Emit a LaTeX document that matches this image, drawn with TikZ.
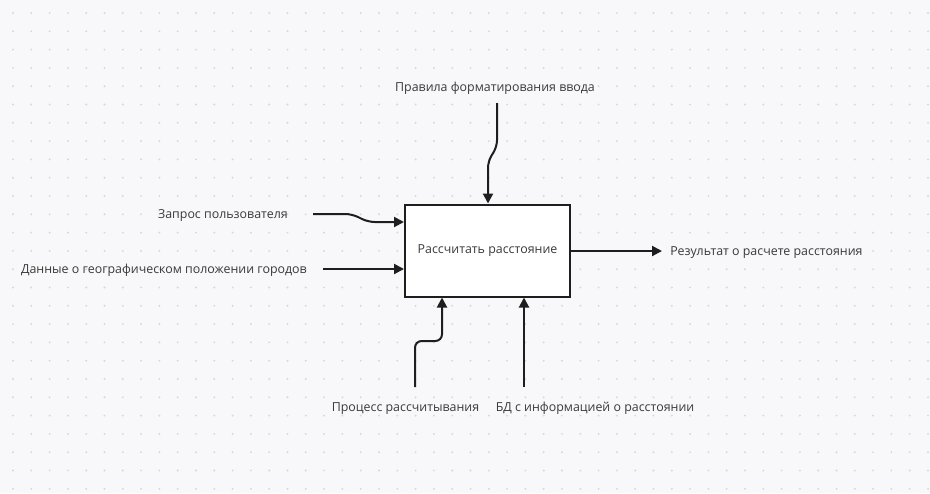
\documentclass[tikz,border=0pt]{standalone}
\usepackage{fontspec}
\setmainfont{Open Sans}
\usetikzlibrary{arrows.meta}
\definecolor{bgcol}{HTML}{F8F8FA}
\definecolor{dotcol}{HTML}{D8D8DC}
\definecolor{inkcol}{HTML}{1E1E1E}
\definecolor{txtcol}{HTML}{3A3A3A}
\tikzset{
    flow/.style={draw=inkcol,line width=1.5pt,rounded corners=5pt,-{Triangle[length=7.5pt,width=7.5pt]}},
    func/.style={draw=inkcol,fill=white,line width=1.5pt,minimum width=123.75pt,minimum height=69pt,text=txtcol,font=\fontsize{9.3}{11}\selectfont},
    lbl/.style={text=txtcol,font=\fontsize{9.3}{11}\selectfont,inner sep=0pt}
}
\begin{document}
\begin{tikzpicture}[x=0.75pt,y=-0.75pt]
        %% background and dot grid
        \fill[bgcol] (0,0) rectangle (930,493);
        \useasboundingbox (0,0) rectangle (930,493);
        \foreach \i in {0,...,50}
            \foreach \j in {0,...,26}
                \fill[dotcol] (13+18.3*\i,13+18.3*\j) circle (0.8pt);
        %% function box
        \node[func] (calc) at (487.5,250.5) {Рассчитать расстояние};
        %% labels
        \node[lbl,anchor=center] (rules) at (495,88.5) {Правила форматирования ввода};
        \node[lbl,anchor=east] (req) at (288,215.5) {Запрос пользователя};
        \node[lbl,anchor=east] (geo) at (307,270.5) {Данные о географическом положении городов};
        \node[lbl,anchor=west] (res) at (670,252.5) {Результат о расчете расстояния};
        \node[lbl,anchor=center] (proc) at (405.5,408.5) {Процесс рассчитывания};
        \node[lbl,anchor=center] (db) at (595,408.5) {БД с информацией о расстоянии};
        %% free ends of the arrows
        \coordinate (rules_end) at (497,103);
        \coordinate (rules_bend) at (488,161);
        \coordinate (req_end) at (313,214);
        \coordinate (req_bend) at (368,222);
        \coordinate (geo_end) at (323,269);
        \coordinate (res_end) at (662,251);
        \coordinate (proc_end) at (415,387);
        \coordinate (proc_bend) at (442,341);
        \coordinate (db_end) at (524,387);
        %% control
        \draw[flow] (rules_end) -- ++(0,44) -- (rules_bend) -- (rules_bend |- calc.north);
        %% inputs
        \draw[flow] (req_end) -- ++(39,0) -- (req_bend) -- (req_bend -| calc.west);
        \draw[flow] (geo_end) -- (geo_end -| calc.west);
        %% output
        \draw[flow] (calc.east |- res_end) -- (res_end);
        %% mechanisms
        \draw[flow] (proc_end) -- (proc_end |- proc_bend) -- (proc_bend) -- (proc_bend |- calc.south);
        \draw[flow] (db_end) -- (db_end |- calc.south);
    \end{tikzpicture}
\end{document}
